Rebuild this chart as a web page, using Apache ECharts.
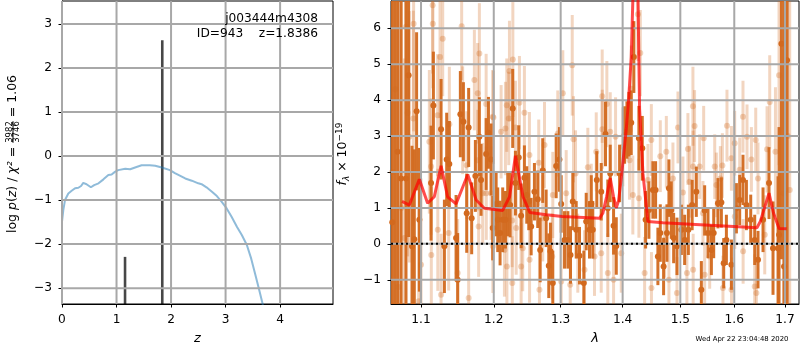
<!DOCTYPE html>
<html>
<head>
<meta charset="utf-8">
<script src="https://cdn.jsdelivr.net/npm/echarts@6/dist/echarts.min.js"></script>
<style>
html, body { margin: 0; padding: 0; background: #fff; }
#chart { width: 800px; height: 350px; }
</style>
</head>
<body>
<div id="chart"></div>
<script>
var FONT = 'DejaVu Sans';

// left panel: redshift probability
var zMin = 0, zMax = 4.97, pzMin = -3.36, pzMax = 3.52;
var zGrid = [0, 0.024, 0.055, 0.116, 0.177, 0.24, 0.30, 0.35, 0.39, 0.45, 0.53, 0.59, 0.67, 0.76, 0.85, 0.91, 0.97, 1.03, 1.16, 1.25, 1.34, 1.46, 1.61, 1.71, 1.83, 1.98, 2.07, 2.17, 2.26, 2.38, 2.50, 2.56, 2.65, 2.75, 2.84, 2.93, 3.02, 3.11, 3.21, 3.30, 3.39, 3.47, 3.54, 3.61, 3.68, 3.72];
var logPz = [-1.49, -1.23, -1.00, -0.85, -0.79, -0.73, -0.72, -0.68, -0.61, -0.64, -0.71, -0.66, -0.62, -0.53, -0.43, -0.42, -0.36, -0.32, -0.29, -0.30, -0.26, -0.21, -0.21, -0.22, -0.26, -0.32, -0.39, -0.45, -0.51, -0.56, -0.62, -0.64, -0.71, -0.81, -0.91, -1.04, -1.19, -1.38, -1.61, -1.80, -2.02, -2.33, -2.67, -3.01, -3.36, -3.70];
var peakZ = [1.156, 1.839];
var peakLogP = [-2.29, 2.63];
var zTicks = [0, 1, 2, 3, 4];
var pzTicks = [-3, -2, -1, 0, 1, 2, 3];

// right panel: spectrum
var waveMin = 1.0612, waveMax = 1.7288, fluxMin = -1.675, fluxMax = 6.76;
var waveTicks = [1.1, 1.2, 1.3, 1.4, 1.5, 1.6, 1.7];
var fluxTicks = [-1, 0, 1, 2, 3, 4, 5, 6];

var lightWave = [
  1.0628, 1.0667, 1.0705, 1.0744, 1.0783, 1.0804, 1.0825, 1.0847, 1.0899, 1.0903,
  1.0969, 1.1000, 1.1110, 1.1133, 1.1136, 1.1154, 1.1156, 1.1221, 1.1223, 1.1253,
  1.1267, 1.1289, 1.1370, 1.1379, 1.1493, 1.1548, 1.1562, 1.1618, 1.1645, 1.1725,
  1.1771, 1.1773, 1.1785, 1.1795, 1.1842, 1.1891, 1.1893, 1.1962, 1.1985, 1.1987,
  1.1995, 1.2106, 1.2154, 1.2169, 1.2188, 1.2190, 1.2217, 1.2227, 1.2267, 1.2269,
  1.2277, 1.2315, 1.2326, 1.2374, 1.2399, 1.2423, 1.2448, 1.2523, 1.2525, 1.2663,
  1.2674, 1.2724, 1.2751, 1.2869, 1.2878, 1.2955, 1.3008, 1.3033, 1.3086, 1.3149,
  1.3181, 1.3201, 1.3233, 1.3269, 1.3376, 1.3429, 1.3484, 1.3537, 1.3565, 1.3646,
  1.3662, 1.3664, 1.3738, 1.3754, 1.3794, 1.3849, 1.3882, 1.3977, 1.4004, 1.4116,
  1.4145, 1.4172, 1.4258, 1.4275, 1.4299, 1.4373, 1.4430, 1.4489, 1.4491, 1.4645,
  1.4721, 1.4751, 1.4797, 1.4868, 1.4940, 1.4958, 1.5047, 1.5119, 1.5137, 1.5168,
  1.5228, 1.5230, 1.5232, 1.5258, 1.5351, 1.5412, 1.5425, 1.5443, 1.5536, 1.5630,
  1.5661, 1.5736, 1.5774, 1.5785, 1.5861, 1.5945, 1.5947, 1.6008, 1.6010, 1.6104,
  1.6168, 1.6170, 1.6246, 1.6331, 1.6396, 1.6416, 1.6429, 1.6461, 1.6594, 1.6640,
  1.6693, 1.6808, 1.6880, 1.6975, 1.7056, 1.7097
];
var lightFlux = [
  2.0, 4.3, -1.2, 1.0, 0.16, 6.04, 3.65, 2.98, 3.49, 6.13,
  -1.60, -0.58, 2.84, 2.15, -0.31, 6.64, 6.13, 3.58, 0.39, 5.20,
  -1.42, 5.71, 0.30, 3.33, -0.81, 6.06, 3.44, 2.19, -1.51, 4.56,
  4.19, 2.33, 0.48, 5.30, 1.41, 3.89, 1.41, 1.41, 3.54, -0.07,
  3.52, 3.12, -0.17, 3.21, 3.86, -0.63, 3.49, 4.81, 0.65, -1.09,
  5.13, 3.24, 0.44, 3.93, -0.63, -0.12, 3.65, 2.47, -0.44, 2.26,
  -1.28, 0.71, 2.75, -0.35, 1.36, 3.07, -1.05, 4.19, 1.41, -1.14,
  4.97, 2.91, 1.96, -0.26, -0.72, 2.13, 1.13, -0.35, 2.56, -0.26,
  4.11, 3.19, 3.89, -0.81, 3.12, -1.00, 2.98, -0.26, 2.70, 2.33,
  4.32, 1.36, 6.39, 1.27, 5.31, -0.81, 1.78, 2.89, -1.23, 2.44,
  0.06, 2.56, -1.00, 1.82, -1.37, 3.24, 1.43, -0.81, 2.64, 1.73,
  3.83, 2.15, -0.72, 3.28, 2.15, 0.85, 2.94, -0.86, -0.35, 2.15,
  1.64, 1.82, 2.18, -1.23, 3.29, 2.38, -1.28, 2.80, 0.76, 2.06,
  3.54, -0.21, 2.98, 2.35, -1.19, 2.89, -1.37, 1.82, 0.25, 2.63,
  3.95, 2.56, 4.69, 1.41, 3.0, 1.5
];
var lightErr = [
  12, 10, 8, 7, 5, 5, 4, 3.5, 3, 3,
  2.6, 2.4, 2.0, 1.9, 1.9, 1.9, 1.8, 1.7, 1.7, 1.7,
  1.7, 1.6, 1.6, 1.6, 1.5, 1.5, 1.5, 1.5, 1.5, 1.4,
  1.4, 1.4, 1.4, 1.4, 1.4, 1.4, 1.3, 1.3, 1.3, 1.3,
  1.3, 1.3, 1.3, 1.3, 1.3, 1.3, 1.3, 1.4, 1.3, 1.3,
  1.6, 1.3, 1.3, 1.3, 1.2, 1.2, 1.3, 1.2, 1.2, 1.2,
  1.2, 1.2, 1.2, 1.2, 1.2, 1.2, 1.2, 1.2, 1.2, 1.2,
  1.4, 1.2, 1.2, 1.1, 1.1, 1.1, 1.1, 1.1, 1.1, 1.1,
  1.3, 1.1, 1.2, 1.1, 1.1, 1.1, 1.1, 1.1, 1.1, 1.1,
  1.2, 1.1, 1.3, 1.1, 1.2, 1.0, 1.0, 1.0, 1.0, 1.0,
  1.0, 1.0, 1.0, 1.0, 1.0, 1.0, 1.0, 1.0, 1.0, 1.0,
  1.1, 1.0, 1.0, 1.0, 0.9, 0.9, 0.9, 0.9, 0.9, 0.9,
  0.9, 0.9, 0.9, 0.9, 1.0, 0.9, 0.9, 0.9, 0.9, 0.9,
  1.0, 0.9, 0.9, 0.9, 0.9, 0.9, 0.9, 1.0, 1.1, 1.2,
  1.3, 1.8, 2.5, 4.0, 6.0, 6.0
];

var darkWave = [
  1.0628, 1.0660, 1.0696, 1.0740, 1.0804, 1.0838, 1.0882, 1.0912, 1.0942, 1.0978,
  1.1133, 1.1164, 1.1267, 1.1312, 1.1343, 1.1379, 1.1471, 1.1493, 1.1530, 1.1572,
  1.1618, 1.1645, 1.1687, 1.1739, 1.1795, 1.1819, 1.1891, 1.1924, 1.1962, 1.1985,
  1.2034, 1.2057, 1.2091, 1.2129, 1.2169, 1.2202, 1.2237, 1.2275, 1.2315, 1.2364,
  1.2399, 1.2448, 1.2483, 1.2513, 1.2549, 1.2598, 1.2648, 1.2685, 1.2724, 1.2776,
  1.2816, 1.2842, 1.2878, 1.2930, 1.2981, 1.3008, 1.3060, 1.3112, 1.3154, 1.3190,
  1.3244, 1.3296, 1.3365, 1.3403, 1.3456, 1.3484, 1.3509, 1.3574, 1.3646, 1.3716,
  1.3754, 1.3794, 1.3849, 1.3894, 1.3949, 1.4033, 1.4072, 1.4105, 1.4145, 1.4189,
  1.4275, 1.4333, 1.4390, 1.4447, 1.4516, 1.4563, 1.4603, 1.4645, 1.4703, 1.4762,
  1.4797, 1.4839, 1.4881, 1.4940, 1.5019, 1.5078, 1.5145, 1.5214, 1.5290,
  1.5382, 1.5443, 1.5505, 1.5568, 1.5611, 1.5691, 1.5755, 1.5799, 1.5850, 1.5945,
  1.6041, 1.6104, 1.6168, 1.6234, 1.6318, 1.6396, 1.6461, 1.6560, 1.6679, 1.6759,
  1.6860, 1.6880, 1.6928, 1.6981, 1.7042
];
var darkFlux = [
  0.6, -2.2, 2.56, 1.82, 1.82, 4.69, -0.07, 0.13, 3.69, 0.67,
  1.69, 3.85, 3.19, -0.07, 2.35, 2.22, 0.16, -1.00, 3.61, 3.40,
  0.85, 3.24, 0.71, 1.89, 2.98, 1.78, 2.50, 3.09, 2.35, 0.44,
  1.11, 0.67, 0.30, 0.67, 0.67, 1.11, 1.08, 3.77, 1.69, 2.40,
  0.78, 1.84, 1.36, 1.18, 0.48, 1.45, 1.24, -0.17, 2.04, 0.71,
  -0.61, -0.21, -1.09, 2.17, 2.35, 1.11, 0.11, 0.11, -0.31, 1.18,
  0.39, -0.33, -1.09, 0.62, 0.39, 1.11, 0.39, 1.78, 1.45, 3.06,
  0.99, 1.96, 0.50, -0.06, 1.96, 3.03, 3.17, 3.33, 3.37, 5.20,
  2.94, 2.66, 0.67, 0.94, 1.50, 1.50, -0.35, 0.30, -0.63, 0.30,
  1.55, 0.94, 0.16, -0.07, 0.39, 0.11, 0.39, 1.08, 1.45,
  -1.28, 0.93, 0.30, -0.17, 0.30, 1.13, 1.15, -0.54, 0.11, -0.58,
  0.99, 1.22, 1.78, 1.08, 0.67, 0.11, -0.44, 0.67, 1.69, -0.12,
  -0.12, 0.25, 5.57, -0.63, 5.11
];
var darkErr = [
  12, 10, 8, 6, 5, 4.5, 2.8, 2.5, 2.2, 2.0,
  1.6, 1.5, 1.4, 1.3, 1.3, 1.2, 1.2, 1.3, 1.2, 1.1,
  1.1, 1.1, 1.0, 1.0, 1.1, 1.0, 1.0, 1.0, 1.0, 0.9,
  0.9, 0.9, 0.9, 0.9, 0.8, 0.9, 0.9, 1.1, 0.9, 0.9,
  0.9, 0.9, 0.8, 0.8, 0.8, 0.8, 0.8, 0.9, 0.9, 0.8,
  0.9, 0.8, 0.9, 0.9, 0.9, 0.8, 0.8, 0.8, 0.8, 0.8,
  0.8, 0.8, 0.9, 0.8, 0.8, 0.8, 0.8, 0.8, 0.8, 0.9,
  0.8, 0.8, 0.8, 0.8, 0.8, 0.8, 0.8, 0.9, 0.9, 1.0,
  0.9, 0.9, 0.8, 0.8, 0.8, 0.8, 0.8, 0.8, 0.8, 0.8,
  0.8, 0.8, 0.7, 0.8, 0.7, 0.7, 0.7, 0.7, 0.7,
  0.8, 0.7, 0.7, 0.7, 0.7, 0.7, 0.7, 0.7, 0.7, 0.7,
  0.7, 0.7, 0.7, 0.7, 0.7, 0.7, 0.8, 0.9, 1.0, 1.3,
  2.0, 3.0, 6.0, 8.0, 8.0
];

var modelWave = [1.0753, 1.0847, 1.0978, 1.1087, 1.1176, 1.1267, 1.1355, 1.1471, 1.1632, 1.1750, 1.1866, 1.2129, 1.2229, 1.2315, 1.2427, 1.2530, 1.2777, 1.3026, 1.3618, 1.3672, 1.3733, 1.3794, 1.3849, 1.3894, 1.3932, 1.3982, 1.4061, 1.4100, 1.4145, 1.4184, 1.4218, 1.4258, 1.4287, 1.4344, 1.4430, 1.4690, 1.6440, 1.6506, 1.6679, 1.6770, 1.6880, 1.7035];
var modelFlux = [1.18, 1.08, 1.80, 1.13, 1.31, 2.17, 1.31, 1.11, 1.93, 1.22, 0.99, 0.93, 1.31, 2.45, 1.31, 0.87, 0.81, 0.76, 0.71, 0.85, 1.30, 1.83, 1.30, 1.00, 1.20, 1.90, 3.20, 4.00, 5.20, 7.50, 9.00, 7.00, 3.75, 1.96, 0.62, 0.59, 0.45, 0.62, 1.41, 0.85, 0.43, 0.42];

var ORANGE = '#d2691e';
var GRID_GRAY = '#a8a8a8';

function tickText(v) {
  return v < 0 ? '\u2212' + Math.abs(v) : String(v);
}

function triples(w, f, e) {
  return w.map(function (x, i) { return [Math.log(x), f[i], e[i]]; });
}

function errBar(color, opacity) {
  return function (params, api) {
    var x = api.value(0), y = api.value(1), e = api.value(2);
    var hi = api.coord([x, y + e]);
    var lo = api.coord([x, y - e]);
    var cs = params.coordSys;
    var y1 = Math.max(hi[1], cs.y), y2 = Math.min(lo[1], cs.y + cs.height);
    if (y2 <= y1) return;
    return {
      type: 'line',
      shape: { x1: hi[0], y1: y1, x2: hi[0], y2: y2 },
      style: { stroke: color, lineWidth: 3, opacity: opacity }
    };
  };
}

function axisCommon(ticks, fmt) {
  return {
    axisLine: { show: true, onZero: false, lineStyle: { color: '#000', width: 1 } },
    axisTick: { show: true, customValues: ticks, length: 3.5, lineStyle: { color: '#000' } },
    axisLabel: { customValues: ticks, color: '#000', fontSize: 12.2, fontFamily: FONT, margin: 10, formatter: fmt },
    splitLine: { show: false }
  };
}

function merge(a, b) { for (var k in b) a[k] = b[k]; return a; }

// one plain line series per grid line, spanning the axis range
function gridLines(idx, xs, ys, x0, x1, y0, y1) {
  var out = [];
  xs.forEach(function (v) { out.push([[v, y0], [v, y1]]); });
  ys.forEach(function (v) { out.push([[x0, v], [x1, v]]); });
  return out.map(function (pts) {
    return {
      type: 'line', xAxisIndex: idx, yAxisIndex: idx, z: 10, silent: true,
      showSymbol: false, data: pts,
      lineStyle: { color: GRID_GRAY, width: 2, opacity: 1 }
    };
  });
}

var lnWaveTicks = waveTicks.map(Math.log);

// fraction label: three overlaid texts with identical layout
function fracText(num, keep) {
  var hide = 'rgba(0,0,0,0)';
  var base = { fontSize: 12.5, fontFamily: FONT, lineHeight: 16, fill: keep === 'main' ? '#000' : hide, color: keep === 'main' ? '#000' : hide };
  var ital = merge(merge({}, base), { fontStyle: 'italic' });
  var f = { fontSize: 8.5, fontFamily: FONT, lineHeight: 8 };
  if (keep === 'main') merge(f, { fill: '#000', color: '#000', verticalAlign: 'top' });
  else if (keep === 'den') merge(f, { fill: '#000', color: '#000', verticalAlign: 'bottom' });
  else merge(f, { fill: hide, color: hide, backgroundColor: '#000', height: 1, verticalAlign: 'middle' });
  return {
    type: 'text', x: 13, y: 154, rotation: Math.PI / 2, silent: true, z: 20,
    style: {
      text: '{r|log }{i|p}{r|(}{i|z}{r|) / }{i|\u03c7\u00b2}{r| = }{f|' + num + '}{r| = 1.06}',
      align: 'center', verticalAlign: 'middle', textAlign: 'center', textVerticalAlign: 'middle',
      rich: { r: base, i: ital, f: f }
    }
  };
}

var series = [
  {
    type: 'line', xAxisIndex: 0, yAxisIndex: 0, showSymbol: false, clip: true,
    data: zGrid.map(function (z, i) { return [z, logPz[i]]; }),
    lineStyle: { color: '#1f77b4', width: 2, opacity: 0.5 }
  },
  {
    type: 'custom', xAxisIndex: 0, yAxisIndex: 0, clip: true,
    data: peakZ.map(function (z, i) { return [z, peakLogP[i]]; }),
    renderItem: function (params, api) {
      var top = api.coord([api.value(0), api.value(1)]);
      var cs = params.coordSys;
      return {
        type: 'line',
        shape: { x1: top[0], y1: top[1], x2: top[0], y2: cs.y + cs.height },
        style: { stroke: '#000', lineWidth: 2.6, opacity: 0.72 }
      };
    }
  },
  {
    type: 'custom', xAxisIndex: 1, yAxisIndex: 1, clip: true,
    data: triples(lightWave, lightFlux, lightErr),
    renderItem: errBar(ORANGE, 0.28)
  },
  {
    type: 'scatter', xAxisIndex: 1, yAxisIndex: 1, symbolSize: 6, clip: true,
    data: triples(lightWave, lightFlux, lightErr),
    itemStyle: { color: ORANGE, opacity: 0.3 }
  },
  {
    type: 'custom', xAxisIndex: 1, yAxisIndex: 1, clip: true,
    data: triples(darkWave, darkFlux, darkErr),
    renderItem: errBar(ORANGE, 0.95)
  },
  {
    type: 'scatter', xAxisIndex: 1, yAxisIndex: 1, symbolSize: 6, clip: true,
    data: triples(darkWave, darkFlux, darkErr),
    itemStyle: { color: ORANGE, opacity: 1 }
  }
];
series = series
  .concat(gridLines(0, zTicks, pzTicks, zMin, zMax, pzMin, pzMax))
  .concat(gridLines(1, lnWaveTicks, fluxTicks, Math.log(waveMin), Math.log(waveMax), fluxMin, fluxMax));
series.push({
  type: 'line', xAxisIndex: 1, yAxisIndex: 1, showSymbol: false, z: 11, silent: true,
  data: [[Math.log(waveMin), 0], [Math.log(waveMax), 0]],
  lineStyle: { color: '#000', width: 2, type: [2, 3] }
});
series.push({
  type: 'line', xAxisIndex: 1, yAxisIndex: 1, showSymbol: false, clip: true, z: 11,
  data: modelWave.map(function (w, i) { return [Math.log(w), modelFlux[i]]; }),
  lineStyle: { color: '#ff0000', width: 3, opacity: 0.7 }
});

var chart = echarts.init(document.getElementById('chart'), null, { renderer: 'canvas' });

chart.setOption({
  animation: false,
  backgroundColor: '#fff',
  textStyle: { fontFamily: FONT },
  grid: [
    { left: 62, right: 467, top: 1, bottom: 46, show: true, borderColor: '#000', borderWidth: 1 },
    { left: 391, right: 1, top: 1, bottom: 46, show: true, borderColor: '#000', borderWidth: 1 }
  ],
  xAxis: [
    merge(axisCommon(zTicks, tickText), {
      gridIndex: 0, type: 'value', min: zMin, max: zMax,
      name: 'z', nameLocation: 'middle', nameGap: 28,
      nameTextStyle: { fontStyle: 'italic', fontSize: 13, color: '#000', fontFamily: FONT }
    }),
    merge(axisCommon(lnWaveTicks, function (v) { return Math.exp(v).toFixed(1); }), {
      gridIndex: 1, type: 'value', min: Math.log(waveMin), max: Math.log(waveMax),
      name: '\u03bb', nameLocation: 'middle', nameGap: 28,
      nameTextStyle: { fontStyle: 'italic', fontSize: 13, color: '#000', fontFamily: FONT }
    })
  ],
  yAxis: [
    merge(axisCommon(pzTicks, tickText), { gridIndex: 0, type: 'value', min: pzMin, max: pzMax }),
    merge(axisCommon(fluxTicks, tickText), { gridIndex: 1, type: 'value', min: fluxMin, max: fluxMax })
  ],
  graphic: {
    elements: [
      fracText('3982', 'main'),
      fracText('3746', 'den'),
      fracText('3982', 'bar'),
      {
        type: 'text', x: 343, y: 154, rotation: Math.PI / 2, silent: true, z: 20,
        style: {
          text: '{i|f}{s|\u03bb}{r| \u00d7 10}{p|\u221219}',
          align: 'center', verticalAlign: 'middle', textAlign: 'center', textVerticalAlign: 'middle',
          rich: {
            i: { fontSize: 12.5, fontStyle: 'italic', fontFamily: FONT, lineHeight: 16, fill: '#000' },
            r: { fontSize: 12.5, fontFamily: FONT, lineHeight: 16, fill: '#000' },
            s: { fontSize: 9, fontStyle: 'italic', fontFamily: FONT, lineHeight: 9, verticalAlign: 'bottom', fill: '#000' },
            p: { fontSize: 9, fontFamily: FONT, lineHeight: 9, verticalAlign: 'top', fill: '#000' }
          }
        }
      },
      {
        type: 'text', x: 318, y: 19, silent: true, z: 20,
        style: { text: 'j003444m4308', fontSize: 12.2, fontFamily: FONT, fill: '#000', align: 'right', verticalAlign: 'middle', textAlign: 'right', textVerticalAlign: 'middle' }
      },
      {
        type: 'text', x: 318, y: 34, silent: true, z: 20,
        style: { text: 'ID=943    z=1.8386', fontSize: 12.2, fontFamily: FONT, fill: '#000', align: 'right', verticalAlign: 'middle', textAlign: 'right', textVerticalAlign: 'middle' }
      },
      {
        type: 'text', x: 742, y: 339, silent: true, z: 20,
        style: { text: 'Wed Apr 22 23:04:48 2020', fontSize: 6.9, fontFamily: FONT, fill: '#000', align: 'center', verticalAlign: 'middle', textAlign: 'center', textVerticalAlign: 'middle' }
      }
    ]
  },
  series: series
});
</script>
</body>
</html>
